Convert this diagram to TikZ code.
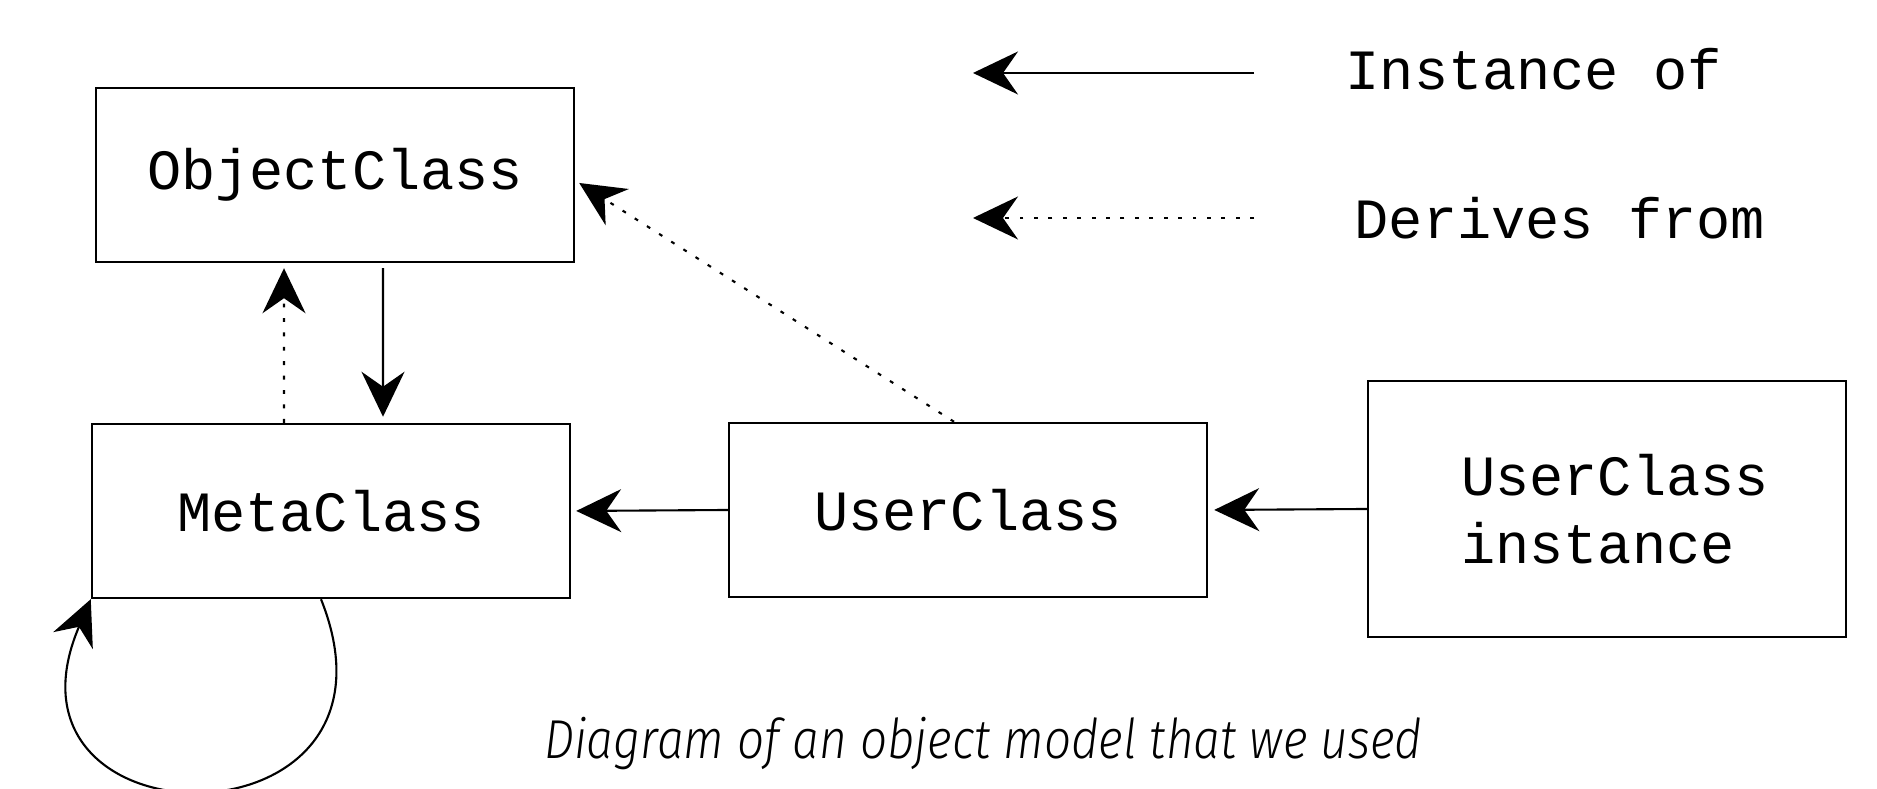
\documentclass[tikz,border=0pt]{standalone}
\usepackage{fontspec}
\usepackage{tikz}
\usetikzlibrary{arrows.meta, positioning, calc}
\setmonofont{Liberation Mono}
\newfontfamily\captionfont{Fira Sans Light Italic}[FakeStretch=0.87]
\newcommand\classfont{\fontsize{16.2pt}{19.4pt}\selectfont\ttfamily}
\tikzset{
  classbox/.style={
    rectangle, draw, line width=0.7pt, minimum width=4.78cm,
    minimum height=1.74cm, inner sep=0pt, font=\classfont
  },
  legendtext/.style={font=\classfont, inner sep=0pt, anchor=base west},
  instanceof/.style={-{Stealth[length=4.5mm, width=4.3mm, inset=1.5mm]}, line width=0.6pt},
  derives/.style={instanceof, dash pattern=on 1.1pt off 3pt}
}
\begin{document}
\begin{tikzpicture}
  \useasboundingbox (0,0) rectangle (18.77,7.89);

  % Classes
  \node[classbox] (ObjectClass) at (3.35, 6.14) {ObjectClass};
  \node[classbox] (MetaClass)   at (3.31, 2.78) {MetaClass};
  \node[classbox] (UserClass)   at (9.68, 2.79) {UserClass};
  \node[classbox, minimum height=2.56cm, align=left]
    (UserInstance) at (16.07, 2.80) {\hspace*{0.16cm}UserClass\\\hspace*{0.16cm}instance};

  % Legend
  \coordinate (instTail) at (12.54, 7.16);
  \coordinate (instHead) at (9.73, 7.16);
  \coordinate (derTail)  at (12.54, 5.71);
  \coordinate (derHead)  at (9.73, 5.71);
  \draw[instanceof] (instTail) -- (instHead);
  \draw[derives]    (derTail) -- (derHead);
  \node[legendtext] (instLabel) at (13.45, 6.99) {Instance of};
  \node[legendtext] (derLabel)  at (13.54, 5.50) {Derives from};

  % Instance-of arrows
  \draw[instanceof, shorten <=0.05cm, shorten >=0.06cm]
    ([xshift=0.48cm]ObjectClass.south) -- ([xshift=0.52cm]MetaClass.north);
  \draw[instanceof, shorten >=0.05cm] (UserClass.west) -- (MetaClass.east);
  \draw[instanceof, shorten >=0.06cm] (UserInstance.west) -- (UserClass.east);
  \draw[instanceof] ([xshift=-0.10cm]MetaClass.south)
    .. controls +(1.02,-2.55) and +(-1.08,-2.52) .. (MetaClass.south west);

  % Derives-from arrows
  \draw[derives, shorten >=0.05cm]
    ([xshift=-0.47cm]MetaClass.north) -- ([xshift=-0.51cm]ObjectClass.south);
  \draw[derives] ([xshift=-0.14cm]UserClass.north)
    -- ([shift={(0.04,-0.08)}]ObjectClass.east);

  % Caption
  \node[font=\captionfont\fontsize{15.6pt}{18pt}\selectfont, anchor=base]
    (caption) at (9.83, 0.30) {Diagram of an object model that we used};
\end{tikzpicture}
\end{document}
